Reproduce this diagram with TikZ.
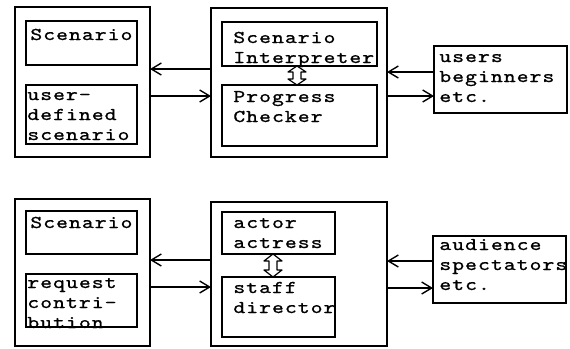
\documentclass[tikz,border=0pt]{standalone}
\usepackage{fontspec}
\newfontfamily\dotfont[LetterSpace=6,FakeStretch=1.25,FakeBold=1]{lmmono10-regular.otf}
\usetikzlibrary{arrows.meta,calc}
\newcommand{\boxlines}[1]{\begin{tabular}[t]{@{}l@{}}#1\end{tabular}}

\begin{document}
\begin{tikzpicture}[x=0.5pt,y=-0.5pt,
  outer/.style={draw,line width=0.9pt,inner sep=0pt,outer sep=0pt},
  inner/.style={draw,line width=0.7pt,inner sep=0pt,outer sep=0pt},
  txt/.style={anchor=base west,inner sep=0pt,font=\dotfont\fontsize{9}{10}\selectfont},
  arr/.style={line width=0.7pt,-{Straight Barb[length=5pt,width=6pt]}},
  dbl/.style={line width=0.6pt,line join=round}]
\useasboundingbox (0,0) rectangle (570,349);
\node[outer,minimum width=67.5pt,minimum height=75pt] (lbox) at (82.5,82) {};
\node[inner,minimum width=55.5pt,minimum height=22pt] (scen) at (81.5,43) {};
\node[inner,minimum width=55.5pt,minimum height=29.5pt] (udef) at (81.5,114.5) {};
\node[outer,minimum width=88pt,minimum height=74.5pt] (mbox) at (299,82.5) {};
\node[inner,minimum width=77.5pt,minimum height=22pt] (interp) at (299.5,44) {};
\node[inner,minimum width=77.5pt,minimum height=30.5pt] (check) at (299.5,115.5) {};
\node[inner,minimum width=66.5pt,minimum height=33.5pt] (users) at (500.5,79.5) {};
\node[txt] (scentxt) at ([shift={(4,19)}]scen.north west) {\boxlines{Scenario}};
\node[txt] (udeftxt) at ([shift={(1,15)}]udef.north west) {\boxlines{user-\\defined\\scenario}};
\node[txt] (interptxt) at ([shift={(11,21)}]interp.north west) {\boxlines{Scenario\\Interpreter}};
\node[txt] (checktxt) at ([shift={(11,17)}]check.north west) {\boxlines{Progress\\Checker}};
\node[txt] (userstxt) at ([shift={(5,16)}]users.north west) {\boxlines{users\\beginners\\etc.}};
\coordinate (ict) at (interp.south -| 297,0);
\coordinate (icb) at (check.north -| 297,0);
\draw[dbl] (ict) -- ++(-9,6) -- ++(5,0) -- ($(icb)+(-4,-6)$) -- ++(-5,0) -- (icb)
  -- ++(9,-6) -- ++(-5,0) -- ($(ict)+(4,6)$) -- ++(5,0) -- cycle;
\draw[arr] (mbox.west |- 0,69) -- (lbox.east |- 0,69);
\draw[arr] (lbox.east |- 0,96) -- (mbox.west |- 0,96);
\draw[arr] (users.west |- 0,72) -- (mbox.east |- 0,72);
\draw[arr] (mbox.east |- 0,96) -- (users.west |- 0,96);
\node[outer,minimum width=67.5pt,minimum height=73.5pt] (lbox2) at (82.5,272.5) {};
\node[inner,minimum width=55.5pt,minimum height=21.5pt] (scen2) at (81.5,232.5) {};
\node[inner,minimum width=55.5pt,minimum height=26.5pt] (req) at (81.5,300.5) {};
\node[outer,minimum width=88pt,minimum height=72pt] (mbox2) at (299,274) {};
\node[inner,minimum width=56.5pt,minimum height=21pt] (actor) at (278.5,233) {};
\node[inner,minimum width=56.5pt,minimum height=30pt] (staff) at (278.5,307) {};
\node[inner,minimum width=66.5pt,minimum height=33.5pt] (aud) at (499.5,269.5) {};
\node[txt] (scen2txt) at ([shift={(4,17)}]scen2.north west) {\boxlines{Scenario}};
\node[txt] (reqtxt) at ([shift={(1,14)}]req.north west) {\boxlines{request\\contri-\\bution}};
\node[txt] (actortxt) at ([shift={(11,16)}]actor.north west) {\boxlines{actor\\actress}};
\node[txt] (stafftxt) at ([shift={(11,16)}]staff.north west) {\boxlines{staff\\director}};
\node[txt] (audtxt) at ([shift={(6,14)}]aud.north west) {\boxlines{audience\\spectators\\etc.}};
\coordinate (ast) at (actor.south -| 273,0);
\coordinate (asb) at (staff.north -| 273,0);
\draw[dbl] (ast) -- ++(-9,7) -- ++(5,0) -- ($(asb)+(-4,-7)$) -- ++(-5,0) -- (asb)
  -- ++(9,-7) -- ++(-5,0) -- ($(ast)+(4,7)$) -- ++(5,0) -- cycle;
\draw[arr] (mbox2.west |- 0,260) -- (lbox2.east |- 0,260);
\draw[arr] (lbox2.east |- 0,287) -- (mbox2.west |- 0,287);
\draw[arr] (aud.west |- 0,261) -- (mbox2.east |- 0,261);
\draw[arr] (mbox2.east |- 0,288) -- (aud.west |- 0,288);
\end{tikzpicture}
\end{document}
